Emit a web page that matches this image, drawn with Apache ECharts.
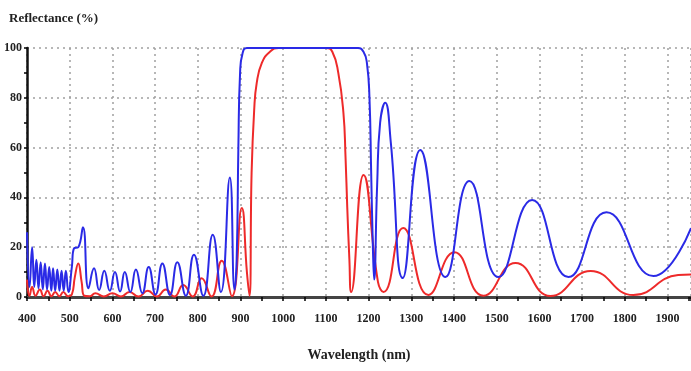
<!DOCTYPE html>
<html>
<head>
<meta charset="utf-8">
<script src="https://cdn.jsdelivr.net/npm/echarts@6/dist/echarts.min.js"></script>
<style>html,body{margin:0;padding:0;background:#fff;}#c{width:691px;height:371px;}</style>
</head>
<body>
<div id="c"></div>
<script>
// Wavelength (nm) / reflectance (%) pairs
const blueSeries = [
[400,26],[406,4],[412,20],[417,4],[422,15],[427,3.5],[432,14],[437,3],[442,13.5],[447,3],[452,12],[457,2.5],[461,11.5],[466,2.5],[471,11],[476,2.5],[481,10.5],[486,2.5],[491,10.5],[497,2],[505,12],[510,19.5],[520,20],[531,28],[544,3.5],[557,11.5],[569,2.8],[581,10.5],[594,2.5],[606,10],[618,2.2],[629,10],[642,2],[655,11],[670,1.5],[685,12],[701,1],[717,13.5],[735,0.8],[752,14],[772,0.5],[791,17],[813,0.5],[835,25],[854,2],[875,48],[886,3],[891,15],[895,60],[899,90],[905,98],[915,100],[1175,100],[1188,98.5],[1196,94],[1202,80],[1206,50],[1210,20],[1213,7],[1220,45],[1227,70],[1239,78],[1252,62],[1280,7.6],[1321,59],[1380,8],[1436,46.6],[1504,8],[1583,39],[1668,8],[1757,34],[1867,8.4],[1955,27.7]
];
const redSeries = [
[400,7],[406,0.5],[412,4],[420,0.5],[430,3],[439,0.3],[448,2.5],[457,0.3],[466,2],[476,0.3],[485,2],[496,0.3],[505,1],[512,8],[520,13.5],[528,6],[534,0.5],[547,0.3],[560,1.5],[580,0.2],[600,1.5],[620,0.2],[640,2],[661,0.2],[683,2.5],[704,0.2],[725,3],[745,0.2],[766,4.8],[788,0.2],[809,7.5],[832,0.2],[856,14.6],[880,0.3],[903,35.7],[915,10],[921,0.5],[926,50],[932,75],[938,86],[950,94],[969,98.5],[990,100],[1100,100],[1115,98.5],[1129,90],[1141,74],[1146,56],[1150,36],[1155,15],[1159,2],[1188,49],[1222,6],[1235,2],[1281,27.7],[1340,0.8],[1401,18],[1469,0.5],[1544,13.7],[1626,0.4],[1720,10.4],[1820,0.8],[1925,8.8],[1955,9]
];
const xTicks = {min:400, max:1955, interval:100};
const yTicks = {min:0, max:100, interval:20};

const font = 'Liberation Serif';
const chart = echarts.init(document.getElementById('c'), null, {renderer:'canvas'});
chart.setOption({
  animation:false,
  title:{text:'Reflectance (%)', left:4, top:7,
    textStyle:{fontFamily:font, fontWeight:'bold', fontSize:13, color:'#222'}},
  grid:{left:27, right:0, top:48, bottom:74},
  xAxis:{type:'value', min:xTicks.min, max:xTicks.max, interval:xTicks.interval,
    name:'Wavelength (nm)', nameLocation:'middle', nameGap:51,
    nameTextStyle:{fontFamily:font, fontWeight:'bold', fontSize:14, color:'#222'},
    axisLine:{lineStyle:{color:'#444', width:3}},
    axisTick:{show:true, length:4, lineStyle:{color:'#000', width:1.5}},
    minorTick:{show:true, splitNumber:2, length:4, lineStyle:{color:'#000', width:1.5}},
    axisLabel:{fontFamily:font, fontWeight:'bold', fontSize:12, color:'#222', margin:16, showMaxLabel:false,
      formatter:v => String(v)},
    splitLine:{show:true, lineStyle:{color:'#a0a0a0', type:[2,4], width:1.5}}
  },
  yAxis:{type:'value', min:yTicks.min, max:yTicks.max, interval:yTicks.interval,
    axisLine:{show:true, lineStyle:{color:'#111', width:2.5}},
    axisTick:{show:true, length:3, lineStyle:{color:'#000', width:1.5}},
    minorTick:{show:true, splitNumber:2, length:3, lineStyle:{color:'#000', width:1.5}},
    axisLabel:{fontFamily:font, fontWeight:'bold', fontSize:12, color:'#222', margin:5},
    splitLine:{show:true, lineStyle:{color:'#a0a0a0', type:[2,4], width:1.5}}
  },
  series:[
    {type:'line', data:redSeries, showSymbol:false, smooth:0.5, z:3,
      lineStyle:{color:'#ee2a2a', width:2}},
    {type:'line', data:blueSeries, showSymbol:false, smooth:0.5, z:4,
      lineStyle:{color:'#2a2ae6', width:2}}
  ]
});
</script>
</body>
</html>
